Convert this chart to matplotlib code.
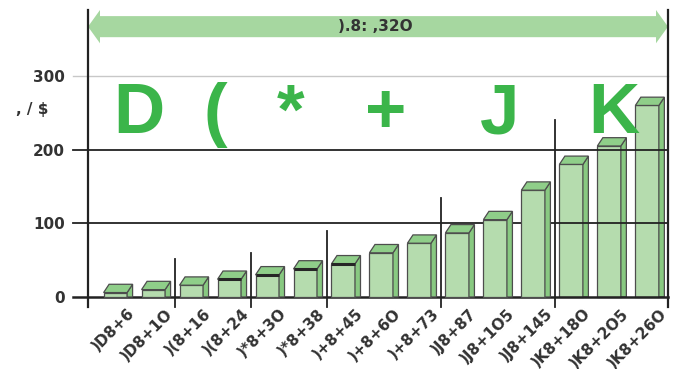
import matplotlib
matplotlib.use("Agg")
import matplotlib.pyplot as plt
from matplotlib.patches import Polygon, Rectangle
from matplotlib.transforms import blended_transform_factory, ScaledTranslation

# ---- data -------------------------------------------------------------
groups = ["D", "(", "*", "+", "J", "K"]
group_sizes = [2, 2, 2, 3, 3, 3]
values = [6, 10, 16, 24, 30, 38, 45, 60, 73, 87, 105, 145, 180, 205, 260]
divider_tops = [52, 60, 89, 134, 240]
y_ticks = [0, 100, 200, 300]
span_label = ").8: ,32O"
y_label = ", / $"

# bar -> group index, and the tick label for each bar
bar_group = []
for gi, n in enumerate(group_sizes):
    bar_group += [gi] * n
labels = [")" + groups[g] + "8+" + str(v).replace("0", "O")
          for g, v in zip(bar_group, values)]

# ---- styling ----------------------------------------------------------
FRONT = "#b5dcae"
TOP = "#8fce89"
SIDE = "#88c981"
EDGE = "#4d4d4d"
DARK = "#222222"
TEXT = "#333333"
LETTER = "#3bb54a"
BAND = "#a6d7a0"

fig = plt.figure(figsize=(6.8, 3.69), dpi=100)
ax = fig.add_axes([88 / 680, 62 / 369, 580 / 680, 297 / 369])
ax.set_xlim(-0.72, 14.55)
ax.set_ylim(-13.6, 389.6)

px_x = 580 / (14.55 + 0.72)      # pixels per x unit
px_y = 297 / (389.6 + 13.6)      # pixels per y unit
W = 23.5 / px_x                  # front face width
DX = 5.5 / px_x                  # depth offset
DY = 8.3 / px_y

for s in ["top", "bottom"]:
    ax.spines[s].set_visible(False)
for s in ["left", "right"]:
    ax.spines[s].set_color(DARK)
    ax.spines[s].set_linewidth(1.6)

bt = blended_transform_factory(ax.transAxes, ax.transData)

# horizontal rules, extending a little left of the axis
ext = -15 / 580
for y in y_ticks:
    if y == 300:
        ax.plot([ext, 1], [y, y], transform=bt, color="#c8c8c8", lw=1.0,
                clip_on=False, zorder=2)
    else:
        ax.plot([ext, 1], [y, y], transform=bt, color=DARK,
                lw=1.8 if y == 0 else 1.3, clip_on=False, zorder=2)

# 3-D style bars
heavy_rim = {3, 4, 5, 6}
last_group = len(groups) - 1
for i, (v, g) in enumerate(zip(values, bar_group)):
    z = 1 if g == last_group else 3
    x0, x1 = i - W / 2, i + W / 2
    ax.add_patch(Rectangle((x0, 0), W, v, facecolor=FRONT, edgecolor=EDGE,
                           lw=0.9, zorder=z))
    ax.add_patch(Polygon([(x1, 0), (x1 + DX, 0), (x1 + DX, v + DY), (x1, v)],
                         closed=True, facecolor=SIDE, edgecolor=EDGE, lw=0.9,
                         zorder=z))
    ax.add_patch(Polygon([(x0, v), (x1, v), (x1 + DX, v + DY), (x0 + DX, v + DY)],
                         closed=True, facecolor=TOP, edgecolor=EDGE, lw=0.9,
                         zorder=z))
    if i in heavy_rim:
        ax.plot([x0, x1], [v, v], color="#262626", lw=2.2, zorder=z + 0.1,
                solid_capstyle="butt")

# group dividers and big group letters
start = 0
for gi, n in enumerate(group_sizes):
    end = start + n - 1
    if gi < len(divider_tops):
        xs = end + 0.5 + DX / 2
        ax.plot([xs, xs], [ax.get_ylim()[0], divider_tops[gi]], color=DARK,
                lw=1.3, zorder=4, clip_on=False)
    xc = (start + end) / 2 + 0.12
    ax.text(xc, 222, groups[gi], fontsize=51, fontweight="bold", color=LETTER,
            ha="center", va="baseline", family="Liberation Sans", zorder=5)
    start = end + 1

# y ticks
ax.set_yticks(y_ticks)
ax.tick_params(axis="y", length=0, pad=16.5, labelsize=11, labelcolor=TEXT)
for lab in ax.get_yticklabels():
    lab.set_fontweight("bold")
ax.set_xticks([])

# rotated category labels
off = ScaledTranslation(17 / 100, -14 / 100, fig.dpi_scale_trans)
for i, lab in enumerate(labels):
    ax.text(i, 0, lab, transform=ax.transData + off, rotation=45,
            rotation_mode="anchor", ha="right", va="center", fontsize=11,
            fontweight="bold", color=TEXT, clip_on=False)

# double-headed span arrow across the top
yc = 367
hs, hh = 14.3, 22.6
hl = 12 / 580
arrow = Polygon([(0, yc), (hl, yc + hh), (hl, yc + hs), (1 - hl, yc + hs),
                 (1 - hl, yc + hh), (1, yc), (1 - hl, yc - hh), (1 - hl, yc - hs),
                 (hl, yc - hs), (hl, yc - hh)], closed=True, transform=bt,
                facecolor=BAND, edgecolor="none", zorder=2, clip_on=False)
ax.add_patch(arrow)
ax.text(0.496, yc, span_label, transform=bt, ha="center", va="center",
        fontsize=11, fontweight="bold", color=TEXT, zorder=6)

# y-axis caption
ax.text(-0.097, 254, y_label, transform=bt, ha="center", va="center",
        fontsize=11, fontweight="bold", color=TEXT)

fig.savefig("out.png", dpi=100)
